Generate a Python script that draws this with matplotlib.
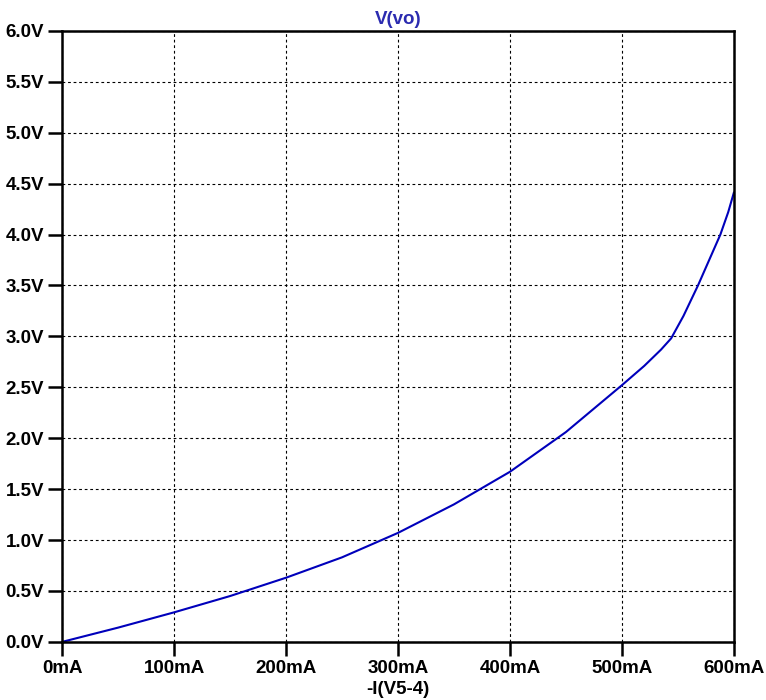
import matplotlib as mpl
import matplotlib.pyplot as plt
from matplotlib.ticker import FuncFormatter, MultipleLocator

mpl.rcParams['font.family'] = 'Liberation Sans'
mpl.rcParams['font.weight'] = 'bold'
mpl.rcParams['font.size'] = 13.5

# load current (mA) vs output voltage (V)
current_ma = [0, 50, 100, 150, 200, 250, 300, 350, 400, 450, 500, 520,
              535, 544, 555, 568, 580, 588, 595, 600]
vo_volts = [0.0, 0.14, 0.29, 0.45, 0.63, 0.83, 1.07, 1.35, 1.67, 2.06,
            2.52, 2.71, 2.87, 2.98, 3.20, 3.50, 3.80, 4.00, 4.22, 4.41]

trace_color = '#0000bb'
title_color = '#2b2bb0'

fig = plt.figure(figsize=(7.66, 7.0), dpi=100)
ax = fig.add_axes([0.081, 0.083, 0.877, 0.873])

ax.plot(current_ma, vo_volts, color=trace_color, linewidth=1.5)

ax.set_xlim(0, 600)
ax.set_ylim(0, 6)
ax.xaxis.set_major_locator(MultipleLocator(100))
ax.yaxis.set_major_locator(MultipleLocator(0.5))
ax.xaxis.set_major_formatter(FuncFormatter(lambda v, p: '%dmA' % round(v)))
ax.yaxis.set_major_formatter(FuncFormatter(lambda v, p: '%.1fV' % v))

ax.grid(True, color='black', linestyle=(0, (2.5, 2.5)), linewidth=0.8)
ax.tick_params(direction='out', length=10, width=1.8, pad=3)
for s in ax.spines.values():
    s.set_linewidth(1.8)

ax.set_title('V(vo)', color=title_color, fontsize=13.5, fontweight='bold', pad=5)
ax.set_xlabel('-I(V5-4)', fontsize=13.5, fontweight='bold', labelpad=3)

fig.savefig('out.png', dpi=100)
